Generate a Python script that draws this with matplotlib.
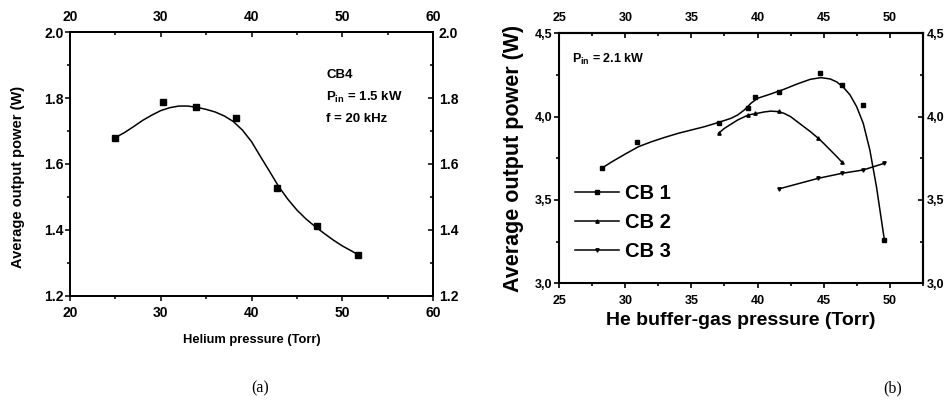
import matplotlib
matplotlib.use("Agg")
import numpy as np
import matplotlib.pyplot as plt
from matplotlib.lines import Line2D
from matplotlib.ticker import FixedLocator, FuncFormatter

plt.rcParams['font.family'] = ['Liberation Sans', 'DejaVu Sans']
plt.rcParams['font.weight'] = 'bold'
plt.rcParams['mathtext.fontset'] = 'custom'
plt.rcParams['mathtext.rm'] = 'Liberation Sans:bold'
plt.rcParams['mathtext.it'] = 'Liberation Sans:bold'
plt.rcParams['mathtext.bf'] = 'Liberation Sans:bold'

# ---------------- data: panel (a) ----------------
a_pressure = [25.0, 30.3, 33.9, 38.3, 42.8, 47.2, 51.75]
a_power = [1.680, 1.788, 1.773, 1.741, 1.527, 1.413, 1.324]
a_fit_x = [25, 26, 27, 28, 29, 30, 31, 32, 33, 34, 35, 36, 37, 38, 39, 40,
           41, 42, 43, 44, 45, 46, 47, 48, 49, 50, 51, 51.75]
a_fit_y = [1.680, 1.695, 1.713, 1.732, 1.748, 1.762, 1.771, 1.776, 1.776,
           1.772, 1.766, 1.758, 1.746, 1.729, 1.703, 1.668, 1.622, 1.577,
           1.531, 1.493, 1.460, 1.433, 1.410, 1.389, 1.369, 1.351, 1.336, 1.324]

# ---------------- data: panel (b) ----------------
cb1_x = [28.2, 30.9, 37.05, 39.3, 39.8, 41.6, 44.7, 46.4, 48.0, 49.6]
cb1_y = [3.69, 3.85, 3.96, 4.05, 4.12, 4.15, 4.26, 4.19, 4.07, 3.26]
cb1_fit_x = [28.2, 29, 30, 31, 32, 33, 34, 35, 36, 37, 38, 38.5, 39, 39.5, 40,
             41, 42, 43, 44, 44.8, 45.5, 46, 46.5, 47, 47.5, 48, 48.5, 49, 49.6]
cb1_fit_y = [3.69, 3.73, 3.776, 3.82, 3.85, 3.876, 3.90, 3.92, 3.94, 3.964,
             3.99, 4.01, 4.04, 4.08, 4.11, 4.136, 4.164, 4.196, 4.224, 4.234,
             4.226, 4.208, 4.176, 4.13, 4.06, 3.96, 3.80, 3.58, 3.26]

cb2_x = [37.05, 39.3, 39.8, 41.6, 44.6, 46.4]
cb2_y = [3.90, 4.01, 4.02, 4.034, 3.874, 3.726]
cb2_fit_x = [37.05, 37.5, 38, 38.5, 39.3, 40, 40.5, 41, 41.6, 42, 42.5, 43,
             43.5, 44, 44.6, 45, 45.5, 46, 46.4]
cb2_fit_y = [3.90, 3.93, 3.955, 3.98, 4.01, 4.02, 4.028, 4.033, 4.03, 4.02,
             4.00, 3.97, 3.94, 3.91, 3.87, 3.84, 3.80, 3.76, 3.726]

cb3_x = [41.6, 44.6, 46.4, 48.0, 49.6]
cb3_y = [3.566, 3.63, 3.66, 3.68, 3.72]

legend_labels = ["CB 1", "CB 2", "CB 3"]

# axis ticks
a_xticks = [20, 30, 40, 50, 60]
a_yticks = [1.2, 1.4, 1.6, 1.8, 2.0]
b_xticks = [25, 30, 35, 40, 45, 50]
b_yticks = [3.0, 3.5, 4.0, 4.5]

W, H = 949, 409
fig = plt.figure(figsize=(W / 100, H / 100), dpi=100)


def hide_empty_texts(a):
    for t in (a.title, a._left_title, a._right_title,
              a.xaxis.offsetText, a.yaxis.offsetText):
        t.set_visible(False)


def minor_of(ticks, step, lim):
    m = np.arange(lim[0], lim[1] + 1e-9, step)
    return [v for v in m if min(abs(v - t) for t in ticks) > 1e-9]


def set_x(axis, maj, mn):
    axis.set_major_locator(FixedLocator(maj))
    axis.set_minor_locator(FixedLocator(mn))
    axis.set_major_formatter(FuncFormatter(lambda v, p: f"{v:.0f}"))


def set_y(axis, maj, mn, fmt):
    axis.set_major_locator(FixedLocator(maj))
    axis.set_minor_locator(FixedLocator(mn))
    axis.set_major_formatter(FuncFormatter(fmt))


def style_axes(ax, xt, xmin_step, yt, ymin_step, fmt, fs, pads, lw):
    xl, yl = ax.get_xlim(), ax.get_ylim()
    xmn = minor_of(xt, xmin_step, xl)
    ymn = minor_of(yt, ymin_step, yl)
    set_x(ax.xaxis, xt, xmn)
    set_y(ax.yaxis, yt, ymn, fmt)
    for s in ax.spines.values():
        s.set_linewidth(lw)
    ax.tick_params(axis='x', which='both', direction='out', labelsize=fs,
                   pad=pads[0], width=lw * 0.8)
    ax.tick_params(axis='y', which='both', direction='out', labelsize=fs,
                   pad=pads[1], width=lw * 0.8)
    ax.tick_params(which='major', length=3.3)
    ax.tick_params(which='minor', length=2.4)
    hide_empty_texts(ax)
    top = ax.secondary_xaxis('top')
    set_x(top.xaxis, xt, xmn)
    top.tick_params(which='both', direction='in', labelsize=fs, pad=pads[2],
                    width=lw * 0.8)
    top.tick_params(which='major', length=3.3)
    top.tick_params(which='minor', length=2.4)
    top.spines['top'].set_linewidth(lw)
    top.xaxis.label.set_visible(False)
    top.yaxis.label.set_visible(False)
    hide_empty_texts(top)
    right = ax.secondary_yaxis('right')
    set_y(right.yaxis, yt, ymn, fmt)
    right.tick_params(which='both', direction='in', labelsize=fs, pad=pads[3],
                      width=lw * 0.8)
    right.tick_params(which='major', length=3.3)
    right.tick_params(which='minor', length=2.4)
    right.spines['right'].set_linewidth(lw)
    right.yaxis.label.set_visible(False)
    right.xaxis.label.set_visible(False)
    hide_empty_texts(right)


# ---------------- panel (a) ----------------
axa = fig.add_axes([69.7 / W, (H - 295.7) / H, 363.6 / W, 263.4 / H])
axa.plot(a_fit_x, a_fit_y, color='black', lw=1.1)
axa.plot(a_pressure, a_power, ls='none', marker='s', ms=4.2, color='black')
axa.set_xlim(20, 60)
axa.set_ylim(1.2, 2.0)
style_axes(axa, a_xticks, 5, a_yticks, 0.1, lambda v, p: f"{v:.1f}", 10,
           (4.2, 1.2, 5.8, 4.0), 1.4)
axa.set_xlabel("Helium pressure (Torr)", fontsize=9.3, fontweight='bold')
axa.xaxis.set_label_coords(0.501, -0.168)
axa.xaxis.label.set_va('center')
axa.set_ylabel("Average output power (W)", fontsize=10.5, fontweight='bold',
               va='center')
axa.yaxis.set_label_coords(-0.142, 0.449)
axa.text(0.705, 0.825, "CB4", transform=axa.transAxes, fontsize=9.5,
         va='baseline', ha='left')
axa.text(0.705, 0.739, r"P$_{\rm in}$ = 1.5 kW", transform=axa.transAxes,
         fontsize=9.5, va='baseline', ha='left')
axa.text(0.705, 0.658, "f = 20 kHz", transform=axa.transAxes, fontsize=9.5,
         va='baseline', ha='left')

# ---------------- panel (b) ----------------
axb = fig.add_axes([559.3 / W, (H - 283.3) / H, 363.4 / W, 250 / H])
axb.plot(cb1_fit_x, cb1_fit_y, color='black', lw=1.1)
axb.plot(cb1_x, cb1_y, ls='none', marker='s', ms=2.2, color='black')
axb.plot(cb2_fit_x, cb2_fit_y, color='black', lw=1.1)
axb.plot(cb2_x, cb2_y, ls='none', marker='^', ms=2.4, color='black')
axb.plot(cb3_x, cb3_y, color='black', lw=1.1, marker='v', ms=2.4)
axb.set_xlim(25, 52.5)
axb.set_ylim(3.0, 4.5)
style_axes(axb, b_xticks, 2.5, b_yticks, 0.25,
           lambda v, p: f"{v:.1f}".replace('.', ','), 9,
           (5.0, 2.0, 6.8, 2.8), 1.5)
axb.set_xlabel("He buffer-gas pressure (Torr)", fontsize=14, fontweight='bold')
axb.xaxis.set_label_coords(0.4994, -0.147)
axb.xaxis.label.set_va('center')
axb.set_ylabel("Average output power (W)", fontsize=15.5, fontweight='bold',
               va='center')
axb.yaxis.set_label_coords(-0.1247, 0.5)
axb.text(0.034, 0.88, r"P$_{\rm in}$ = 2.1 kW", transform=axb.transAxes,
         fontsize=9, va='baseline', ha='left')

markers = ['s', '^', 'v']
handles = [Line2D([], [], color='black', lw=1.1, marker=m, ms=2.4)
           for m in markers]
axb.legend(handles, legend_labels, loc='upper left',
           bbox_to_anchor=(575 / W, 1 - 184 / H),
           bbox_transform=fig.transFigure, frameon=False,
           handlelength=2.2, handletextpad=0.3, labelspacing=0.5,
           borderpad=0, borderaxespad=0, prop={'weight': 'bold', 'size': 14.5})

# captions
fig.text(260 / W, 1 - 388 / H, "(a)", family='Liberation Serif',
         fontweight='normal', fontsize=11.5, ha='center', va='center')
fig.text(893 / W, 1 - 388 / H, "(b)", family='Liberation Serif',
         fontweight='normal', fontsize=11.5, ha='center', va='center')

fig.savefig("out.png", dpi=100)
